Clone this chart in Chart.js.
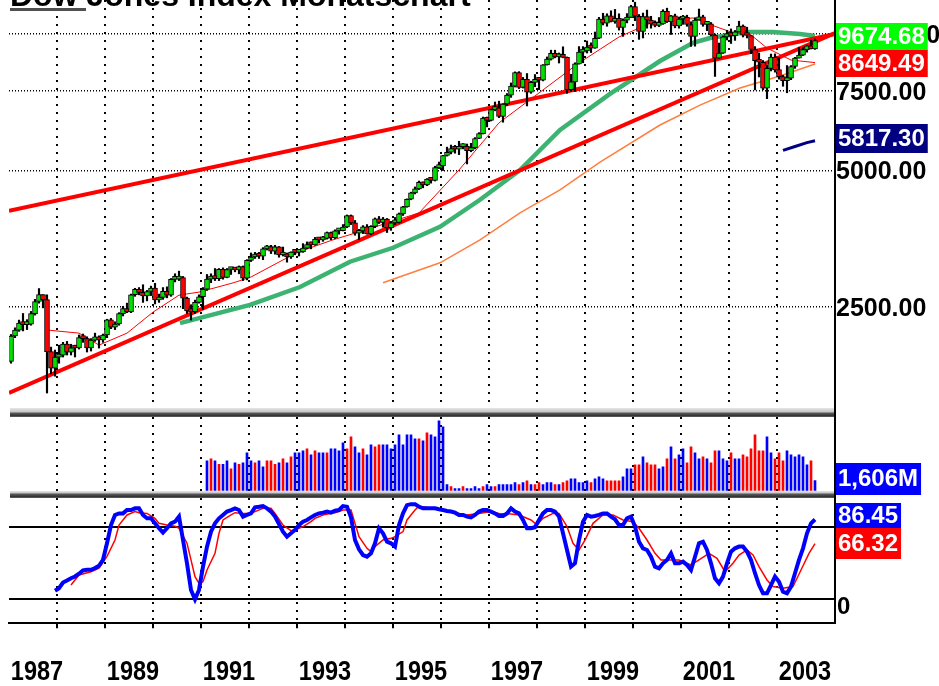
<!DOCTYPE html>
<html><head><meta charset="utf-8">
<script src="https://cdn.jsdelivr.net/npm/chart.js@4.4.1/dist/chart.umd.min.js"></script>
<style>
html,body{margin:0;padding:0;background:#fff;}
#wrap{position:relative;width:939px;height:686px;overflow:hidden;background:#fff;}
canvas{position:absolute;left:0;}
.sep{position:absolute;left:10px;width:824px;}
</style></head><body>
<div id="wrap">
<canvas id="cMain" width="939" height="408" style="top:0"></canvas>
<canvas id="cVol" width="939" height="81" style="top:417px"></canvas>
<canvas id="cOsc" width="939" height="188" style="top:498px"></canvas>
<div class="sep" style="top:408px;height:9px;background:linear-gradient(to bottom,#e6e6e6 0px,#c4c4c4 4px,#5a5a5a 5px,#2e2e2e 8px,#7a7a7a 9px)"></div>
<div class="sep" style="top:491px;height:7px;background:linear-gradient(to bottom,#e6e6e6 0px,#c4c4c4 2px,#5a5a5a 3px,#2e2e2e 6px,#7a7a7a 7px)"></div>
<div style="position:absolute;left:834px;top:0;width:2px;height:624px;background:#000"></div>
</div>
<script>
// ---------- DATA ----------
const titleText = 'Dow Jones Index Monatschart';
const firstYear = 1987;
const gridYears = [1987,1988,1989,1990,1991,1992,1993,1994,1995,1996,1997,1998,1999,2000,2001,2002,2003];
const yearLabels = ['1987','1989','1991','1993','1995','1997','1999','2001','2003'];
const priceTicks = [2500, 5000, 7500, 10000];
const oscLevels = [20, 80];

// monthly candles, Jan 1987 .. Oct 2003 (index 0 .. 201)
const opens = [1896,
2158,2224,2305,2286,2292,2419,2572,2663,2596,1994,1834,1939,
1958,2072,1988,2032,2031,2142,2129,2032,2113,2149,2115,2169,
2342,2258,2294,2419,2480,2440,2661,2737,2693,2645,2706,2753,
2591,2627,2707,2657,2877,2881,2905,2615,2453,2442,2560,2634,
2736,2882,2914,2888,3028,2907,3025,3044,3017,3069,2895,3169,
3224,3268,3236,3359,3397,3319,3394,3257,3272,3226,3305,3301,
3310,3371,3435,3428,3527,3516,3540,3651,3555,3681,3684,3754,
3978,3832,3636,3682,3758,3625,3765,3913,3843,3908,3739,3834,
3844,4011,4158,4321,4465,4556,4709,4647,4789,4756,5075,5117,
5395,5486,5587,5569,5643,5655,5529,5616,5882,6029,6522,6448,
6813,6878,6584,7009,7331,7673,8223,7622,7945,7442,7823,7908,
7907,8546,8800,9063,8900,8952,8883,7539,7843,8592,9117,9181,
9359,9307,9786,10789,10560,10971,10655,10829,10337,10729,10878,11497,
10941,10128,10922,10734,10522,10448,10522,11215,10651,10971,10415,10788,
10887,10495,9879,10735,10912,10502,10523,9950,8848,9075,9852,10022,
9920,10106,10404,9946,9925,9243,8737,8664,7592,8397,8896,8342,
8054,7891,7992,8480,8850,8985,9234,9416,9275];
const closes = [
2158,2224,2305,2286,2292,2419,2572,2663,2596,1994,1834,1939,
1958,2072,1988,2032,2031,2142,2129,2032,2113,2149,2115,2169,
2342,2258,2294,2419,2480,2440,2661,2737,2693,2645,2706,2753,
2591,2627,2707,2657,2877,2881,2905,2615,2453,2442,2560,2634,
2736,2882,2914,2888,3028,2907,3025,3044,3017,3069,2895,3169,
3224,3268,3236,3359,3397,3319,3394,3257,3272,3226,3305,3301,
3310,3371,3435,3428,3527,3516,3540,3651,3555,3681,3684,3754,
3978,3832,3636,3682,3758,3625,3765,3913,3843,3908,3739,3834,
3844,4011,4158,4321,4465,4556,4709,4647,4789,4756,5075,5117,
5395,5486,5587,5569,5643,5655,5529,5616,5882,6029,6522,6448,
6813,6878,6584,7009,7331,7673,8223,7622,7945,7442,7823,7908,
7907,8546,8800,9063,8900,8952,8883,7539,7843,8592,9117,9181,
9359,9307,9786,10789,10560,10971,10655,10829,10337,10729,10878,11497,
10941,10128,10922,10734,10522,10448,10522,11215,10651,10971,10415,10788,
10887,10495,9879,10735,10912,10502,10523,9950,8848,9075,9852,10022,
9920,10106,10404,9946,9925,9243,8737,8664,7592,8397,8896,8342,
8054,7891,7992,8480,8850,8985,9234,9416,9275,9674.68];
const highs = [
2175,2250,2340,2420,2345,2445,2600,2746,2662,2660,2040,2010,
2060,2090,2100,2070,2060,2170,2180,2150,2130,2190,2160,2180,
2350,2360,2320,2430,2510,2550,2670,2750,2760,2800,2720,2780,
2820,2670,2760,2770,2890,2960,3000,2920,2630,2530,2590,2660,
2760,2950,2960,3040,3040,3050,3040,3060,3060,3080,3080,3180,
3290,3300,3300,3380,3420,3420,3420,3400,3390,3290,3310,3340,
3340,3450,3480,3480,3560,3560,3580,3660,3660,3700,3720,3800,
3990,3990,3880,3710,3780,3800,3780,3930,3960,3940,3920,3860,
3940,4030,4170,4330,4480,4600,4740,4720,4800,4800,5110,5220,
5400,5630,5690,5680,5800,5730,5720,5740,5910,6060,6560,6560,
6830,7080,7110,7010,7390,7800,8250,8260,8020,8180,7870,8140,
7980,8560,8900,9210,9210,9080,9370,8900,8150,8640,9380,9380,
9650,9560,10100,10880,11110,11080,11250,11330,11080,10800,11090,11570,
11750,11040,11120,11290,10940,10690,10870,11310,11400,10990,11060,10900,
10990,11000,10640,10860,11350,11000,10650,10600,10000,9550,9900,10190,
10260,10180,10670,10470,10350,9930,9380,9080,8740,8540,9030,9040,
8870,8110,8520,8520,8880,9350,9340,9450,9690,9750];
const lows = [
1880,2140,2210,2215,2230,2280,2400,2550,2490,1616,1780,1760,
1880,1940,1960,1960,1940,2020,2090,1990,2000,2100,2030,2090,
2140,2240,2230,2280,2390,2430,2430,2640,2660,2560,2580,2650,
2540,2560,2600,2620,2640,2840,2860,2480,2420,2340,2420,2550,
2470,2720,2830,2860,2860,2880,2900,2950,2990,2960,2860,2870,
3150,3200,3200,3180,3340,3280,3270,3220,3240,3140,3200,3260,
3240,3300,3360,3360,3420,3460,3490,3530,3520,3540,3620,3680,
3740,3800,3600,3520,3630,3620,3610,3740,3820,3750,3650,3690,
3800,3830,3980,4150,4310,4440,4540,4580,4630,4690,4740,5050,
5000,5380,5440,5460,5420,5580,5170,5500,5580,5880,6020,6240,
6430,6770,6540,6390,6960,7250,7640,7580,7600,6940,7400,7650,
7540,7880,8540,8760,8860,8630,8860,7400,7480,7470,8580,8640,
9080,9100,9300,9770,10470,10400,10630,10560,10200,9880,10580,10870,
10700,9730,9800,10300,10300,10370,10380,10500,10600,9975,10320,10300,
10500,10400,9390,9400,10730,10400,10170,9900,8062,8840,9060,9700,
9530,9680,10100,9850,9800,9050,7530,8040,7530,7200,8290,8240,
7950,7670,7420,7930,8400,8850,8960,9120,9270,9250];

// overlay lines (x = month index from Jan 1987)
const fastMAX = [9,17,22,29,35.5,42,47,55.5,60,68,72,80.5,87,102,112,122,132,142,152,160,170.5,175,180,185,189,195,201];
const fastMAY = [2225,2190,2061,2190,2436,2656,2697,2826,2912,3176,3310,3517,3661,4031,5014,6369,7413,8633,9850,10580,10850,10470,10100,9950,9310,8760,8649.49];
const greenMAX = [42.25,59.75,72.25,84.75,95.5,107.25,117.25,127.25,137.25,149.75,162.25,170.5,174.75,184,190.5,197.25,201];
const greenMAY = [2305,2528,2768,3147,3378,3756,4310,5014,6146,7376,8718,9560,9800,10100,10100,10000,9900];
const slowMAX = [93,107.25,117.25,127.25,137.25,147.25,162.25,172.25,182.25,192.25,201];
const slowMAY = [2828,3130,3517,4032,4531,5220,6300,6970,7600,8080,8590];
const navyX = [193,196,199,201];
const navyY = [5540,5650,5760,5817.30];
const upperTrendX = [-0.5, 206];
const upperTrendY = [4073, 10000];
const lowerTrendX = [-0.5, 206];
const lowerTrendY = [1617, 10051];

// volume (millions), Feb 1991 .. Oct 2003
const volumeStart = 49;
const volume = [
4815,5136,4815,4227,4227,4815,3531,4494,4227,4494,6099,4815,4494,4815,3852,4815,4815,4227,4494,5136,
4494,5457,6099,6099,6420,6741,5778,6420,6099,6099,6099,6741,6741,6420,7704,6741,8667,7062,6099,6741,
5778,7383,7062,7383,7383,7383,6741,7383,8988,7383,8988,8988,8346,8346,8025,9309,8988,8667,11235,10272,
963,642,321,321,642,321,321,642,321,642,963,642,642,963,
963,963,963,1284,963,1284,1605,963,963,1284,963,1284,1284,963,963,1284,1605,1926,1926,1284,
1284,1605,1284,1926,2247,1926,1605,1605,1605,1605,2247,3531,3531,4173,4173,5457,4494,4173,4173,3531,
3852,5136,7062,5136,5778,6741,4494,7062,6099,5136,5457,5136,4494,6420,6420,5136,4815,6099,5136,5136,
5778,5457,6741,8988,6420,6420,8667,6099,5136,6099,4815,6420,5778,5457,5778,5457,4173,4815,1606];
const volumeColors = 'BRBRBBRBRBBBRBBRRRBRBRBBBRBRBBRBBBBRRBBRBBRRBBBBBBBBBRBRBBBB' +
  'BRBBRBBBBRBBRB' +
  'BBBBRBRBRRBBBRBRRBBBBBRBBBRRRRBBBRRBRRRBBRBRBBRRBBRBRRBBBRBBRRRRRRBBRRRBBBBBBRB';

// stochastic oscillator
const oscStart = 11;
const oscK = [
27.2,29.2,34,35.7,37.6,39,41.3,44,44.6,44.6,46,47.9,52.9,66.7,81.9,90.3,91.6,91.6,94.4,94.4,
95.8,95.8,90.3,87.5,87.5,83.3,79.2,75.6,79.2,83.3,84.7,88.9,69.4,50,27.8,20,27.8,47.2,63.9,76.4,
83.3,87.5,90.3,93.1,94.4,95.8,94.4,88.9,90.3,91.6,96.6,97.1,97.7,95.8,93.1,88.9,82.8,76.4,72.2,75,
77.8,81.9,84.7,86.1,88.3,90.3,91.6,92.2,93.1,92.2,93.8,94.4,97.7,97.1,88.3,69.4,61.6,56.9,55.5,58.3,
66.7,79.2,75,68,66.7,63.9,81.9,91.6,98.5,99.3,99.3,97.1,95.8,95.8,95.8,95.8,95,94.4,93.6,93.1,
92.2,90.3,90.3,88.9,88.3,
90.3,93.1,94.4,94.4,93.1,91.6,89.4,89.4,91.6,95.8,93.1,91.6,86.1,79.2,79.2,80,86.1,91.6,94.4,94.4,
93.1,88.9,75,61.1,47.2,50,69.4,84.7,90.3,88.9,89.4,90.3,91.6,91.6,88.9,86.7,81.9,81.9,87.5,88.9,
80.6,68,62.5,61.1,55.5,47.2,45.8,50,52.8,58.3,50,50,51.4,48.6,44.4,55.5,66.7,68,61.1,50,
37.5,33.3,38.9,50,59.7,62.5,63.9,63.9,59.7,52.8,41.7,31.9,25,25,31.9,38.9,34.7,26.4,25,30.6,
41.7,52.8,62.5,75,83.3,86.45];
const oscDX = [15,17,20,22,24,26,27,29,31,32,34,36,37,39,41,42,44,45,46,47,48,49,51,52,53,55,56,58,60,61,
63,65,66,68,70,71,73,75,76,78,80,81,83,85,86,87,89,90,91,93,95,96,98,99,101,102,104,106,107,109,111,112,114,
117,120,122,125,127,130,131.5,133,135.5,137,139,140.5,142,143.5,145.5,148,150.5,153,155.5,157,159,161,162.5,
165,167,170,172,174.5,176.5,178.5,180.5,182,184,185.5,187,189,190.5,193,195.5,197.5,199.5,201];
const oscDY = [31.9,40.3,43,46,55.8,69.4,81.9,90.3,93.1,92.2,91.6,87.5,83.3,81.9,81,79.2,66.7,52.8,38.9,33.3,
34.7,44.4,58.3,75,86.1,90.3,92.2,91.6,91.6,93.1,95.8,95.8,91.6,81.9,77.2,77.8,80.6,84.7,87.5,90.3,
91.6,92.2,94.4,94.4,83.3,72.2,62.5,59.7,63.9,69.4,70.8,72.2,76.4,86.1,94.4,97.7,96.6,95.8,94.4,93.1,
92.2,91.6,90.3,
91.6,93.1,91.6,91,90.3,86.1,81.9,87.5,91.6,91.6,80.6,66.7,61.1,69.4,83.3,90.3,90.3,86.1,84.7,79.2,
69.4,58.3,52.8,52.8,52.8,48.6,52.8,58.3,54.2,43,50,56.9,61.1,56.9,47.2,36.1,30.6,29.2,30.6,44.4,
58.3,66.32];

// ---------- DRAWING ----------
const FONT = '"Liberation Sans", Arial, sans-serif';
const X_MIN = -0.5, X_MAX = 206;
const yearPos = y => (y - firstYear) * 12 - 0.5;
const pts = (xs, ys) => xs.map((x, i) => ({x: x, y: ys[i]}));
const idx = closes.map((_, i) => i);
const noPad = s => { s.paddingLeft = 0; s.paddingRight = 0; s.paddingTop = 0; s.paddingBottom = 0; };

function boxLabel(ctx, text, x, yc, h, bg, fg) {
  ctx.save();
  ctx.font = 'bold 24px ' + FONT;
  const w = ctx.measureText(text).width + 5;
  ctx.fillStyle = bg;
  ctx.fillRect(x, Math.round(yc - h / 2), w, h);
  ctx.fillStyle = fg;
  ctx.textAlign = 'left';
  ctx.textBaseline = 'middle';
  ctx.fillText(text, x + 2, yc + 1);
  ctx.restore();
}

function gridX(over, height) {
  const base = {
    type: 'linear', min: X_MIN, max: X_MAX, offset: false,
    afterBuildTicks: s => { s.ticks = gridYears.map(y => ({value: yearPos(y)})); },
    ticks: {display: false},
    grid: {offset: false, drawTicks: false, lineWidth: 2,
           color: c => c.index === 0 ? 'rgba(0,0,0,0)' : '#000'},
    border: {display: false, dash: [2, 6]},
    afterFit: s => { s.height = height || 0; noPad(s); }
  };
  return Object.assign(base, over || {});
}

function rightY(over) {
  return Object.assign({
    position: 'right',
    ticks: {display: false}, grid: {display: false},
    border: {display: true, color: '#000', width: 2},
    afterFit: s => { s.width = 104; noPad(s); }
  }, over);
}

const common = {
  responsive: false, maintainAspectRatio: false, animation: false, devicePixelRatio: 1, events: [],
  layout: {padding: {left: 9, right: 0, top: 0, bottom: 0}, autoPadding: false},
  plugins: {legend: {display: false}, tooltip: {enabled: false}, title: {display: false}}
};

function lineDs(xs, ys, color, w, order) {
  return {type: 'line', data: pts(xs, ys), borderColor: color, borderWidth: w,
          pointRadius: 0, tension: 0, fill: false, order: order};
}

// main price chart
new Chart(document.getElementById('cMain'), {
  type: 'line',
  data: {datasets: [
    {type: 'bar', data: idx.map(i => ({x: i, y: [opens[i], closes[i]]})),
     backgroundColor: idx.map(i => closes[i] >= opens[i] ? '#00e000' : '#ff0000'),
     borderColor: '#000', borderWidth: 1, borderSkipped: false, barThickness: 5,
     minBarLength: 3, grouped: false, order: 0},
    {type: 'bar', data: idx.map(i => ({x: i, y: [lows[i], highs[i]]})),
     backgroundColor: '#000', borderWidth: 0, barThickness: 1.5, grouped: false, order: 1},
    lineDs(fastMAX, fastMAY, '#ff0000', 1, 2),
    lineDs(navyX, navyY, '#000080', 3, 3),
    lineDs(upperTrendX, upperTrendY, '#ff0000', 4, 4),
    lineDs(lowerTrendX, lowerTrendY, '#ff0000', 4, 5),
    lineDs(greenMAX, greenMAY, '#3cb371', 4.5, 6),
    lineDs(slowMAX, slowMAY, '#ff7f3f', 1.5, 7)
  ]},
  options: Object.assign({}, common, {
    scales: {
      x: gridX(),
      y: rightY({type: 'logarithmic', min: 1497.6, max: 11883,
          afterBuildTicks: s => { s.ticks = priceTicks.map(v => ({value: v})); },
          ticks: {display: true, callback: v => Number(v).toFixed(2), color: '#000', padding: 1, labelOffset: 2,
                  font: {family: FONT, size: 25, weight: 'bold'}},
          grid: {display: true, color: '#000', lineWidth: 1.5, drawTicks: false},
          border: {display: true, color: '#000', width: 2, dash: [1, 2]}})
    }
  }),
  plugins: [{
    id: 'mainDeco',
    afterDraw(chart) {
      const ctx = chart.ctx, ys = chart.scales.y, x0 = chart.chartArea.right + 1;
      ctx.save();
      ctx.font = 'bold 32px ' + FONT;
      ctx.fillStyle = '#000';
      ctx.textBaseline = 'alphabetic';
      ctx.fillText(titleText, 10, 6);
      ctx.fillStyle = '#505050';
      ctx.fillRect(10, 8, 76, 3);
      ctx.restore();
      const red = fastMAY[fastMAY.length - 1];
      const navy = navyY[navyY.length - 1];
      const last = closes[closes.length - 1];
      boxLabel(ctx, red.toFixed(2), x0, ys.getPixelForValue(red) + 1, 27, '#ff0000', '#fff');
      boxLabel(ctx, navy.toFixed(2), x0, ys.getPixelForValue(navy) - 2, 29, '#000080', '#fff');
      boxLabel(ctx, last.toFixed(2), x0, ys.getPixelForValue(last) - 4, 27, '#00ff00', '#fff');
    }
  }]
});

// volume chart
new Chart(document.getElementById('cVol'), {
  type: 'bar',
  data: {datasets: [{
    data: volume.map((v, k) => ({x: volumeStart + k, y: v})),
    backgroundColor: volume.map((v, k) => volumeColors[k] === 'R' ? '#ff0000' : '#0000ff'),
    barThickness: 2, grouped: false, borderWidth: 0
  }]},
  options: Object.assign({}, common, {
    scales: {
      x: gridX(null, 7.3),
      y: rightY({type: 'linear', min: 0, max: 11836})
    }
  }),
  plugins: [{
    id: 'volDeco',
    afterDraw(chart) {
      const v = volume[volume.length - 1];
      const y = chart.scales.y.getPixelForValue(v) - 2;
      boxLabel(chart.ctx, v.toLocaleString('en-US') + 'M', chart.chartArea.right + 1, y, 32, '#0000ff', '#fff');
    }
  }]
});

// oscillator chart
new Chart(document.getElementById('cOsc'), {
  type: 'line',
  data: {datasets: [
    lineDs(oscK.map((_, k) => oscStart + k), oscK, '#0000ff', 4, 0),
    lineDs(oscDX, oscDY, '#ff0000', 1.5, 1)
  ]},
  options: Object.assign({}, common, {
    scales: {
      x: gridX({
        grid: {offset: false, drawTicks: true, tickLength: 5, tickWidth: 2, lineWidth: 2,
               color: c => c.index === 0 ? 'rgba(0,0,0,0)' : '#000',
               tickColor: c => c.index === 0 ? 'rgba(0,0,0,0)' : '#000'},
        border: {display: true, color: '#000', width: 2, dash: [2, 6]}
      }, 62.7),
      y: rightY({type: 'linear', min: 0, max: 104.42,
          afterBuildTicks: s => { s.ticks = oscLevels.map(v => ({value: v})); },
          grid: {display: true, color: '#000', lineWidth: 2, drawTicks: false}})
    }
  }),
  plugins: [{
    id: 'oscDeco',
    afterDraw(chart) {
      const ctx = chart.ctx, ys = chart.scales.y, xs = chart.scales.x, x0 = chart.chartArea.right + 1;
      const k = oscK[oscK.length - 1], d = oscDY[oscDY.length - 1];
      ctx.save();
      ctx.font = 'bold 24px ' + FONT;
      ctx.fillStyle = '#000';
      ctx.textBaseline = 'middle';
      ctx.textAlign = 'left';
      ctx.fillText('0', x0 + 1, ys.getPixelForValue(oscLevels[0]) + 8);
      ctx.font = 'bold 28px ' + FONT;
      ctx.textAlign = 'center';
      const ly = chart.chartArea.bottom + 49;
      yearLabels.forEach(l => {
        ctx.save();
        ctx.translate(xs.getPixelForValue(yearPos(+l)) + 28, ly);
        ctx.scale(0.84, 1);
        ctx.fillText(l, 0, 0);
        ctx.restore();
      });
      ctx.restore();
      boxLabel(ctx, d.toFixed(2), x0, ys.getPixelForValue(d), 31, '#ff0000', '#fff');
      boxLabel(ctx, k.toFixed(2), x0, ys.getPixelForValue(k) - 4, 25, '#0000ff', '#fff');
    }
  }]
});
</script>
</body></html>
